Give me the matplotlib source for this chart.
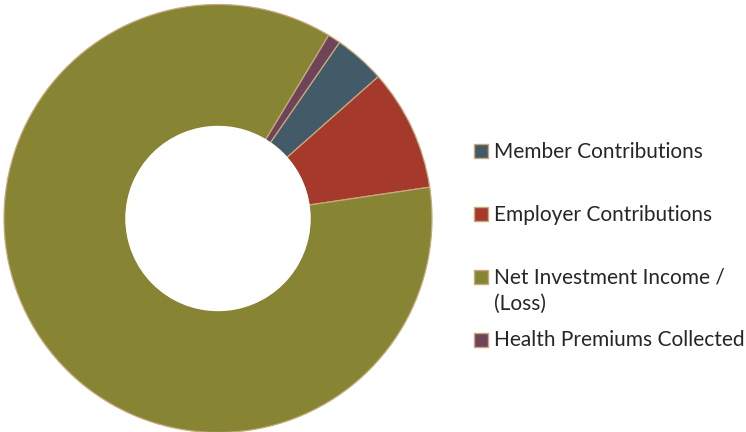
import matplotlib
matplotlib.use("Agg")
import matplotlib.pyplot as plt
from matplotlib.patches import Rectangle, Circle

categories = ["Member Contributions", "Employer Contributions",
              "Net Investment Income /\n(Loss)", "Health Premiums Collected"]
values = [3.86, 9.19, 85.99, 0.96]
colors = ["#435B69", "#A4392C", "#878433", "#6F4459"]
edge_color = "#C8A97E"

W, H = 746, 432
fig = plt.figure(figsize=(W / 100, H / 100), dpi=100)

cx, cy_top, R = 218.0, 218.5, 214.0
cy = H - cy_top
ax = fig.add_axes([(cx - R) / W, (cy - R) / H, 2 * R / W, 2 * R / H])

ax.pie(values, colors=colors, startangle=55.4, counterclock=False, radius=1.0,
       wedgeprops=dict(width=0.57, edgecolor=edge_color, linewidth=0.9))
# clean white hole (no outline on the inner rim)
ax.add_patch(Circle((0, 0), 0.433, facecolor="white", edgecolor="none", zorder=5))
ax.set_xlim(-1, 1)
ax.set_ylim(-1, 1)
ax.set_aspect("equal")
ax.axis("off")

# legend drawn manually to match layout
text_x = 494
baselines = [158.3, 220.7, 283.3, 346.5]
sq_tops = [144.0, 206.7, 270.0, 332.7]
sq_size = 14.0
line_gap = 26.7
for lab, col, bl, st in zip(categories, colors, baselines, sq_tops):
    fig.patches.append(Rectangle(((474) / W, (H - st - sq_size) / H), sq_size / W, sq_size / H,
                                 transform=fig.transFigure, facecolor=col,
                                 edgecolor=edge_color, linewidth=1.0))
    for i, line in enumerate(lab.split("\n")):
        fig.text(text_x / W, (H - bl - i * line_gap) / H, line, fontsize=15.0,
                 family="Lato", color="#262626", ha="left", va="baseline")

fig.savefig("out.png", dpi=100)
